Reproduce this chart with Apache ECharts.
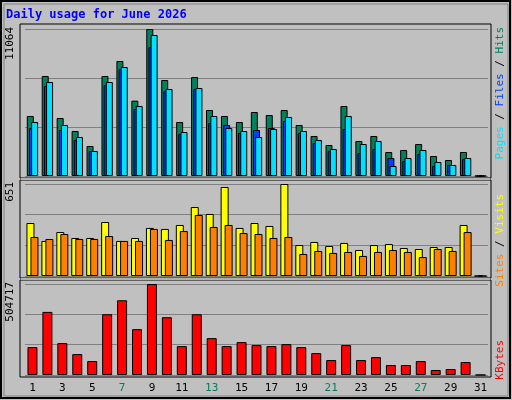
<!DOCTYPE html><html><head><meta charset="utf-8"><script src="https://cdn.jsdelivr.net/npm/echarts@6/dist/echarts.min.js"></script>
<style>body{margin:0;background:#c0c0c0}#c{width:512px;height:400px}</style></head><body><div id="c"></div><script>
const days=Array.from({length:31},(_,i)=>String(i+1));
const weekend=['6','7','13','14','20','21','27','28'];
const hits=[4516,7527,4365,3387,2258,7527,8655,5670,11064,7225,4064,7451,4967,4516,4064,4817,4591,4967,3838,3011,2333,5268,2634,3011,1806,1957,2408,1505,1204,1806,0];
const files=[4064,7075,3838,2935,1882,7075,8204,5268,10612,6548,3312,6623,4516,3613,3387,2935,3537,4441,3387,2710,2032,4516,2408,2634,753,1355,1957,1054,828,1355,0];
const pages=[3613,6774,3462,2710,1882,6849,8053,5043,9709,6397,3161,6548,3989,3838,3237,3462,3613,4140,3237,2484,1882,3537,1731,2032,1355,1129,1656,753,828,1280,0];
const visits=[375,248,311,269,269,382,248,269,340,333,361,488,439,630,340,375,354,651,219,241,212,234,184,219,226,198,191,205,205,361,0];
const sites=[276,262,297,262,262,283,248,248,333,255,318,432,347,361,304,297,269,276,156,177,163,170,142,170,184,170,134,191,177,311,0];
const kbytes=[154730,349986,176835,116048,77365,337093,414458,254200,504717,320515,160256,337093,204466,160256,182361,165784,160256,171310,154730,121574,82891,165784,82891,99470,55261,55261,77365,27630,33156,71839,0];
const maxHits=11064,maxVisits=651,maxK=504717;
const mono='DejaVu Sans Mono';
const ch=echarts.init(document.getElementById('c'));
const grids=[{left:25,right:24,top:29,height:147},{left:25,right:24,top:184,height:92},{left:25,right:24,top:284,height:91}];
function xa(i,show){return{type:'category',gridIndex:i,data:days,axisLine:{show:false},axisTick:{show:false},
 axisLabel:{show:show,fontFamily:mono,fontSize:11,margin:8,color:(v)=>weekend.includes(v)?'#00805c':'#000'}};}
function ya(i,max){return{type:'value',gridIndex:i,min:0,max:max,interval:max/3,axisLabel:{show:false},axisLine:{show:false},axisTick:{show:false},
 splitLine:{lineStyle:{color:'#808080',width:1}}};}
const bs={borderColor:'#000',borderWidth:1};
function bar(name,data,xi,color,w,gap){return{name,type:'bar',data,xAxisIndex:xi,yAxisIndex:xi,barWidth:w,barGap:gap,itemStyle:Object.assign({color},bs),animation:false};}
const rot=(text,x,y,rich)=>({type:'text',x,y,rotation:Math.PI/2,style:{text,fontFamily:mono,fontSize:11,fill:'#000',align:'right',verticalAlign:'middle',rich}});
ch.setOption({
 backgroundColor:'#c0c0c0',animation:false,
 grid:grids,
 xAxis:[xa(0,false),xa(1,false),xa(2,true)],
 yAxis:[ya(0,maxHits),ya(1,maxVisits),ya(2,maxK)],
 series:[bar('Hits',hits,0,'#00805c',7,'-69%'),bar('Pages',pages,0,'#0040ff',7,'-69%'),bar('Files',files,0,'#00e0ff',7,'-69%'),
  bar('Visits',visits,1,'#ffff00',8,'-50%'),bar('Sites',sites,1,'#ff8000',8,'-50%'),
  bar('KBytes',kbytes,2,'#ff0000',10,'0%')],
 graphic:[
  {type:'rect',shape:{x:1,y:1,width:509,height:397},style:{fill:'none',stroke:'#000',lineWidth:2},z:-10},
  {type:'rect',shape:{x:4,y:4,width:504,height:392},style:{fill:'none',stroke:'#808080',lineWidth:1},z:-10},
  {type:'rect',shape:{x:20,y:24,width:471,height:154},style:{fill:'none',stroke:'#000',lineWidth:1},z:-5},
  {type:'rect',shape:{x:20,y:180,width:471,height:98},style:{fill:'none',stroke:'#000',lineWidth:1},z:-5},
  {type:'rect',shape:{x:20,y:280,width:471,height:97},style:{fill:'none',stroke:'#000',lineWidth:1},z:-5},
  {type:'line',shape:{x1:21,y1:179,x2:490,y2:179},style:{stroke:'#fff',lineWidth:1}},
  {type:'line',shape:{x1:21,y1:279,x2:490,y2:279},style:{stroke:'#fff',lineWidth:1}},
  {type:'text',x:6,y:9,style:{text:'Daily usage for June 2026',fontFamily:mono,fontSize:12,fontWeight:'bold',fill:'#0000ff'}},
  {type:'text',x:10,y:27,rotation:Math.PI/2,style:{text:String(maxHits),fontFamily:mono,fontSize:11,fill:'#000',align:'right',verticalAlign:'middle'}},
  {type:'text',x:10,y:182,rotation:Math.PI/2,style:{text:String(maxVisits),fontFamily:mono,fontSize:11,fill:'#000',align:'right',verticalAlign:'middle'}},
  {type:'text',x:10,y:282,rotation:Math.PI/2,style:{text:String(maxK),fontFamily:mono,fontSize:11,fill:'#000',align:'right',verticalAlign:'middle'}},
  {type:'text',x:500,y:27,rotation:Math.PI/2,style:{text:'{a|Pages}{b| / }{c|Files}{b| / }{d|Hits}',align:'right',verticalAlign:'middle',font:'11px '+mono,
    rich:{a:{fill:'#00e0ff',fontFamily:mono,fontSize:11},b:{fill:'#000',fontFamily:mono,fontSize:11},c:{fill:'#0040ff',fontFamily:mono,fontSize:11},d:{fill:'#00805c',fontFamily:mono,fontSize:11}}}},
  {type:'text',x:500,y:194,rotation:Math.PI/2,style:{text:'{a|Sites}{b| / }{c|Visits}',align:'right',verticalAlign:'middle',
    rich:{a:{fill:'#ff8000',fontFamily:mono,fontSize:11},b:{fill:'#000',fontFamily:mono,fontSize:11},c:{fill:'#ffff00',fontFamily:mono,fontSize:11}}}},
  {type:'text',x:500,y:340,rotation:Math.PI/2,style:{text:'KBytes',fill:'#ff0000',fontFamily:mono,fontSize:11,align:'right',verticalAlign:'middle'}}
 ]
});
</script></body></html>
